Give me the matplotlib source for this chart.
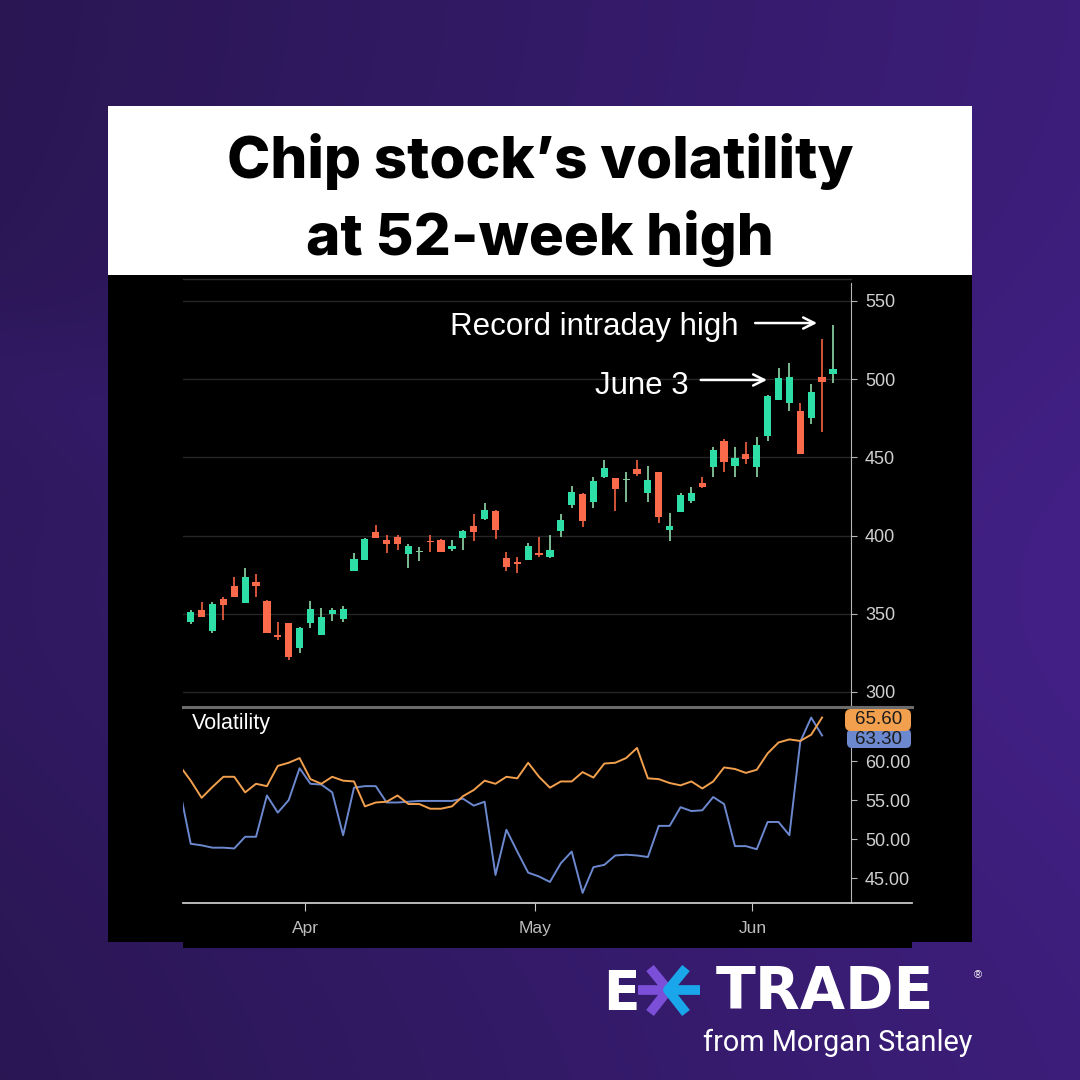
import numpy as np
import matplotlib.pyplot as plt
from matplotlib.patches import Rectangle, FancyBboxPatch

plt.rcParams["font.family"] = ["Liberation Sans", "DejaVu Sans"]

# daily candles (first one sits half outside the left edge)
opens = [347.0, 344.9, 352.4, 339.0, 359.3, 367.8, 356.7, 370.3, 358.2, 336.2,
         343.9, 327.9, 343.9, 336.2, 349.9, 346.9, 377.6, 384.2, 402.3, 397.4,
         399.3, 388.0, 389.5, 396.5, 397.2, 391.6, 398.7, 406.1, 410.8, 415.9,
         385.9, 383.3, 384.4, 389.0, 386.1, 403.1, 419.6, 426.4, 421.5, 437.7,
         436.6, 435.3, 442.6, 427.4, 440.5, 403.6, 414.9, 422.3, 433.8, 443.6,
         460.7, 444.5, 451.9, 443.6, 463.7, 486.7, 485.0, 479.7, 475.0, 501.6,
         503.1]
highs = [348.0, 352.4, 357.3, 357.7, 361.0, 373.3, 379.1, 375.4, 358.6, 344.9,
         343.9, 341.8, 358.2, 353.5, 353.5, 355.2, 388.7, 398.3, 407.0, 400.4,
         400.4, 394.6, 392.5, 400.4, 398.0, 397.2, 403.6, 413.8, 420.6, 416.4,
         389.7, 386.5, 395.5, 398.9, 400.4, 413.8, 431.7, 427.0, 437.3, 448.3,
         436.6, 440.5, 448.3, 444.5, 440.9, 414.3, 427.0, 430.9, 437.7, 456.9,
         461.8, 456.9, 459.6, 463.2, 489.9, 507.4, 510.2, 484.6, 496.7, 525.5,
         534.7]
lows = [345.0, 343.3, 347.8, 337.5, 345.8, 360.5, 356.7, 360.5, 337.5, 333.2,
        320.5, 325.1, 341.1, 336.2, 345.6, 344.8, 377.6, 384.2, 398.7, 389.1,
        390.8, 379.5, 383.9, 389.7, 389.7, 390.1, 390.8, 396.5, 410.0, 397.6,
        377.6, 376.3, 384.4, 386.1, 385.5, 399.3, 417.8, 405.3, 417.8, 437.0,
        415.7, 421.3, 438.1, 421.5, 408.3, 396.7, 414.9, 421.0, 430.2, 437.7,
        440.9, 437.7, 445.6, 437.7, 460.7, 486.7, 479.9, 452.2, 471.4, 466.4,
        497.8]
closes = [346.0, 351.4, 347.8, 356.3, 355.4, 360.5, 373.3, 368.0, 337.5, 335.2,
          322.2, 340.7, 353.3, 347.8, 352.4, 353.3, 385.0, 397.6, 398.7, 394.8,
          394.8, 393.3, 390.0, 395.8, 389.7, 393.6, 403.1, 402.5, 416.4, 403.6,
          379.7, 381.8, 393.3, 387.8, 390.8, 410.0, 428.1, 409.1, 435.0, 443.4,
          430.0, 435.9, 439.4, 435.6, 412.1, 406.1, 425.9, 427.4, 431.3, 454.7,
          447.3, 449.4, 449.2, 457.9, 489.3, 500.6, 501.6, 452.2, 492.0, 498.2,
          506.5]

# volatility panel, one value per day (no value yet for the last candle)
vol_orange = [59.4, 57.5, 55.3, 56.7, 58.0, 58.0, 56.0, 57.1, 56.8, 59.4,
              59.8, 60.4, 57.7, 57.1, 58.0, 57.5, 57.4, 54.2, 54.7, 54.8,
              55.6, 54.5, 54.5, 53.9, 53.9, 54.2, 55.5, 56.3, 57.5, 57.1,
              58.0, 57.8, 59.8, 58.0, 56.6, 57.4, 57.4, 58.6, 57.9, 59.7,
              59.8, 60.4, 61.7, 57.8, 57.7, 57.2, 56.9, 57.4, 56.5, 57.4,
              59.2, 59.0, 58.5, 58.9, 61.0, 62.4, 62.8, 62.6, 63.4, 65.6]
vol_blue = [56.3, 49.4, 49.2, 48.9, 48.9, 48.8, 50.3, 50.3, 55.6, 53.4,
            55.0, 59.1, 57.1, 57.0, 56.0, 50.5, 56.6, 56.8, 56.8, 54.7,
            54.7, 54.8, 54.9, 54.9, 54.9, 54.9, 55.2, 54.3, 54.8, 45.4,
            51.2, 48.4, 45.7, 45.2, 44.5, 46.9, 48.4, 43.1, 46.4, 46.7,
            47.9, 48.0, 47.9, 47.7, 51.7, 51.7, 54.1, 53.6, 53.7, 55.4,
            54.5, 49.1, 49.1, 48.7, 52.2, 52.2, 50.5, 62.5, 65.6, 63.3]

month_labels = ["Apr", "May", "Jun"]
month_pos = [11.5, 32.6, 52.6]
price_ticks = [300, 350, 400, 450, 500, 550]
vol_ticks = [45, 50, 55, 60]

green = "#2ddfa6"
green_wick = "#86c99c"
red = "#fb6a4a"
red_wick = "#e45a3e"
orange = "#f2a04e"
blue = "#6c88cf"

W = H = 1080


def box(x0, y0, x1, y1):
    # pixel box (top-left origin) -> figure rect
    return [x0 / W, 1 - y1 / H, (x1 - x0) / W, (y1 - y0) / H]


fig = plt.figure(figsize=(10.8, 10.8), dpi=100)

# background: purple gradient
bg = fig.add_axes([0, 0, 1, 1])
yy, xx = np.mgrid[0:1:400j, 0:1:400j]
t = 0.2 + 0.6 * xx + 0.2 * np.exp(-((yy - 0.55) ** 2) / 0.08)
t += 0.12 * np.exp(-((yy - 0.35 - 0.3 * xx) ** 2) / 0.004) * (xx < 0.2)
t = np.clip(t, 0, 1)
c0 = np.array([36, 20, 70]) / 255
c1 = np.array([66, 32, 134]) / 255
img = c0 + (c1 - c0) * t[..., None]
bg.imshow(img, extent=[0, W, H, 0], aspect="auto", interpolation="bilinear")
bg.set_xlim(0, W)
bg.set_ylim(H, 0)
bg.axis("off")

# title card + black chart card
bg.add_patch(Rectangle((108, 106), 864, 169, color="white", lw=0))
bg.add_patch(Rectangle((108, 275), 864, 667, color="black", lw=0))
bg.add_patch(Rectangle((183, 275), 729, 673, color="black", lw=0))
bg.plot([183, 851], [279, 279], color="#2a2a2a", lw=1)

bg.text(540, 178, "Chip stock’s volatility", ha="center", va="baseline",
        fontsize=42, fontweight="heavy", family="Inter", color="black")
bg.text(540, 255, "at 52-week high", ha="center", va="baseline",
        fontsize=42, fontweight="heavy", family="Inter", color="black")

# logo
bg.text(603, 1009, "E", ha="left", va="baseline", fontsize=38.5,
        fontweight="bold", family="DejaVu Sans", color="white")
bg.plot([638, 668], [990, 990], color="#7b4fd8", lw=7, solid_capstyle="butt")
bg.plot([650, 668, 650], [968, 990, 1013], color="#7b4fd8", lw=7,
        solid_capstyle="butt")
bg.plot([668, 700], [990, 990], color="#1aa6ea", lw=7, solid_capstyle="butt")
bg.plot([686, 668, 686], [968, 990, 1013], color="#1aa6ea", lw=7,
        solid_capstyle="butt")
bg.text(825, 1009, "TRADE", ha="center", va="baseline", fontsize=42,
        fontweight="bold", family="DejaVu Sans", color="white")
bg.text(974, 978, "®", ha="left", va="baseline", fontsize=8, color="white")
bg.text(972, 1051, "from Morgan Stanley", ha="right", va="baseline",
        fontsize=20.8, family="Roboto", color="white")

xlim = (0.29, 61.66)
x = np.arange(len(opens))

# price panel
ax = fig.add_axes(box(183, 283, 851, 706))
ax.set_facecolor("none")
ax.set_xlim(*xlim)
ax.set_ylim(291, 561.5)
up = np.array(closes) >= np.array(opens)
flat = np.abs(np.array(closes) - np.array(opens)) < 1.0
wick_cols = [green_wick if u else red_wick for u in up]
body_cols = [(green_wick if f else green) if u else red for u, f in zip(up, flat)]
ax.vlines(x, lows, highs, colors=wick_cols, lw=1.3, zorder=2)
bottoms = np.minimum(opens, closes)
heights = np.maximum(np.abs(np.array(closes) - np.array(opens)), 0.9)
ax.bar(x, heights, bottom=bottoms, width=0.66, color=body_cols, lw=0, zorder=3)

ax.set_yticks(price_ticks)
ax.set_xticks([])
ax.grid(axis="y", color="#262626", lw=1)
ax.set_axisbelow(True)
ax.yaxis.tick_right()
ax.tick_params(axis="y", length=4, color="#b5b5b5", labelcolor="#d0d0d0",
               labelsize=13, pad=6)
for s in ["left", "top", "bottom"]:
    ax.spines[s].set_visible(False)
ax.spines["right"].set_color("#b5b5b5")

# notes with arrows
ax.text(51.3, 528.3, "Record intraday high", ha="right", va="baseline",
        fontsize=22.5, color="white")
ax.annotate("", xy=(58.8, 535.9), xytext=(52.6, 535.9),
            arrowprops=dict(arrowstyle="->", color="white", lw=1.8,
                            mutation_scale=20))
ax.text(46.7, 490.8, "June 3", ha="right", va="baseline",
        fontsize=22.5, color="white")
ax.annotate("", xy=(54.2, 499.5), xytext=(47.6, 499.5),
            arrowprops=dict(arrowstyle="->", color="white", lw=1.8,
                            mutation_scale=20))

# volatility panel
av = fig.add_axes(box(183, 709, 851, 903))
av.set_facecolor("none")
av.set_xlim(*xlim)
av.set_ylim(41.8, 66.7)
xv = np.arange(len(vol_orange))
av.plot(xv, vol_blue, color=blue, lw=1.4)
av.plot(xv, vol_orange, color=orange, lw=1.4)
av.set_yticks(vol_ticks, [f"{v:.2f}" for v in vol_ticks])
av.yaxis.tick_right()
av.tick_params(axis="y", length=4, color="#b5b5b5", labelcolor="#d0d0d0",
               labelsize=13, pad=6)
av.set_xticks(month_pos, month_labels)
av.tick_params(axis="x", length=6, color="#c8c8c8", labelcolor="#bdbdbd",
               labelsize=12.5, pad=7)
for s in ["left", "top", "bottom"]:
    av.spines[s].set_visible(False)
av.spines["right"].set_color("#b5b5b5")

# overlay for separators and value tags
ov = fig.add_axes([0, 0, 1, 1])
ov.set_facecolor("none")
ov.set_xlim(0, W)
ov.set_ylim(H, 0)
ov.axis("off")
ov.plot([183, 912], [707, 707], color="#6b6b6b", lw=2.2)
ov.plot([183, 912], [903, 903], color="#c8c8c8", lw=1.3)
ov.text(192, 724, "Volatility", ha="left", va="center", fontsize=15.5,
        color="white")
ov.add_patch(FancyBboxPatch((847, 729), 64, 19, boxstyle="round,pad=0,rounding_size=5",
                            color=blue, lw=0))
ov.text(879, 739, f"{vol_blue[-1]:.2f}", ha="center", va="center", fontsize=13.5,
        color="#1b1b1b")
ov.add_patch(FancyBboxPatch((845, 709), 66, 22, boxstyle="round,pad=0,rounding_size=6",
                            color=orange, lw=0))
ov.text(879, 720, f"{vol_orange[-1]:.2f}", ha="center", va="center", fontsize=13.5,
        color="#1b1b1b")

fig.savefig("out.png", dpi=100)
